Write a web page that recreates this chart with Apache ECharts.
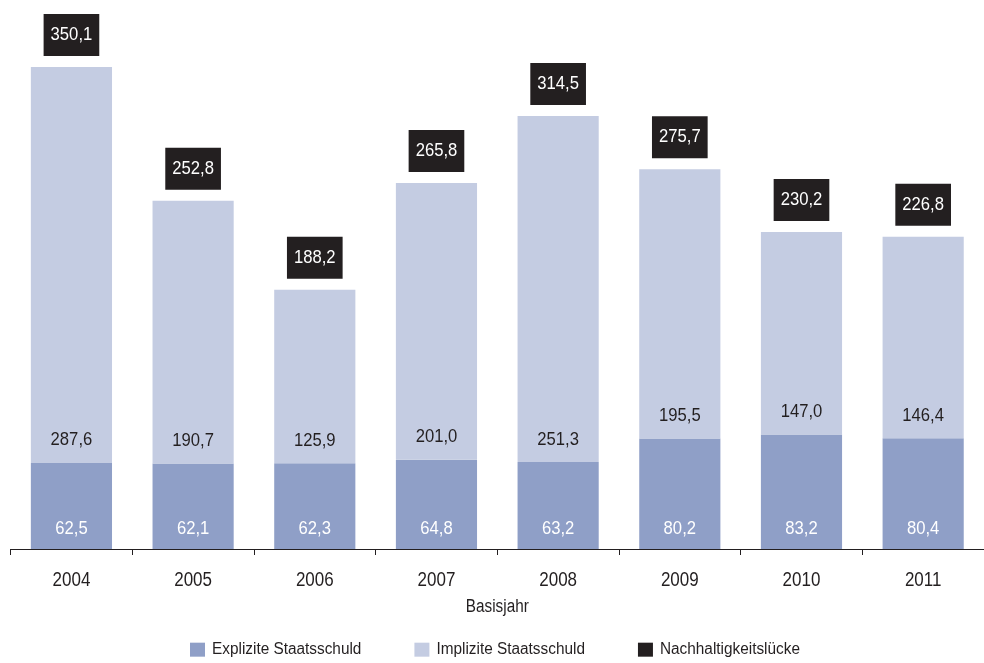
<!DOCTYPE html>
<html>
<head>
<meta charset="utf-8">
<script src="https://cdn.jsdelivr.net/npm/echarts@6/dist/echarts.min.js"></script>
<style>html,body{margin:0;padding:0;background:#fff}#c{width:984px;height:663px}</style>
</head>
<body>
<div id="c"></div>
<script>
var years = ['2004','2005','2006','2007','2008','2009','2010','2011'];
var explizit = [62.5, 62.1, 62.3, 64.8, 63.2, 80.2, 83.2, 80.4];
var implizit = [287.6, 190.7, 125.9, 201.0, 251.3, 195.5, 147.0, 146.4];
var luecke = [350.1, 252.8, 188.2, 265.8, 314.5, 275.7, 230.2, 226.8];

// Emulate the condensed typeface of the original: narrow the glyphs horizontally
// (text is still measured and drawn by ECharts itself).
(function(){
  var P = CanvasRenderingContext2D.prototype;
  function sc(font){
    if (/(^|\s)300(\s)/.test(font)) return 0.96;
    if (/(^|\s)500(\s)/.test(font)) return 0.9;
    return 0.85;
  }
  var mt = P.measureText, ft = P.fillText, st = P.strokeText;
  P.measureText = function(t){
    var m = mt.call(this, t), s = sc(this.font), o = {};
    for (var k in m) { o[k] = m[k]; }
    o.width = m.width * s;
    if (m.actualBoundingBoxLeft != null) o.actualBoundingBoxLeft = m.actualBoundingBoxLeft * s;
    if (m.actualBoundingBoxRight != null) o.actualBoundingBoxRight = m.actualBoundingBoxRight * s;
    return o;
  };
  P.fillText = function(t, x, y){
    var s = sc(this.font);
    this.save(); this.translate(x, y); this.scale(s, 1); ft.call(this, t, 0, 0); this.restore();
  };
  P.strokeText = function(t, x, y){
    var s = sc(this.font);
    this.save(); this.translate(x, y); this.scale(s, 1); st.call(this, t, 0, 0); this.restore();
  };
})();

var FONT = '"Liberation Sans", Arial, sans-serif';
function fmt(v){ return v.toFixed(1).replace('.', ','); }

var chart = echarts.init(document.getElementById('c'), null, {renderer:'canvas'});
chart.setOption({
  animation: false,
  textStyle: {fontFamily: FONT},
  grid: {left: 10.6, width: 983, top: 25.7, bottom: 114},
  legend: {
    top: 642, left: 190, padding: 0,
    itemWidth: 15, itemHeight: 14, itemGap: 53,
    icon: 'rect',
    textStyle: {fontFamily: FONT, fontWeight: 300, fontSize: 16, color: '#231f20', padding: [0, 0, 0, 2]},
    data: ['Explizite Staatsschuld', 'Implizite Staatsschuld', 'Nachhaltigkeitslücke']
  },
  xAxis: {
    type: 'category', data: years,
    name: 'Basisjahr', nameLocation: 'middle', nameGap: 50,
    nameTextStyle: {fontFamily: FONT, fontSize: 18, color: '#231f20'},
    axisLine: {lineStyle: {color: '#231f20', width: 1}},
    axisTick: {show: true, length: 6, lineStyle: {color: '#231f20'}},
    axisLabel: {margin: 23, fontFamily: FONT, fontSize: 20, color: '#231f20'}
  },
  yAxis: {type: 'value', min: 0, max: 380, show: false, splitLine: {show: false}},
  series: [
    {
      name: 'Explizite Staatsschuld', type: 'bar', stack: 'a', barWidth: '66.7%',
      data: explizit,
      itemStyle: {color: '#8f9fc7'},
      label: {show: true, position: 'insideBottom', distance: 12, color: '#fff',
        fontFamily: FONT, fontWeight: 500, fontSize: 18.5, formatter: function(p){ return fmt(p.value); }}
    },
    {
      name: 'Implizite Staatsschuld', type: 'bar', stack: 'a',
      data: implizit,
      itemStyle: {color: '#c4cce2'},
      label: {show: true, position: 'insideBottom', distance: 14, color: '#231f20',
        fontFamily: FONT, fontWeight: 500, fontSize: 18.5, formatter: function(p){ return fmt(p.value); }}
    },
    {
      name: 'Nachhaltigkeitslücke', type: 'bar', stack: 'a',
      data: luecke.map(function(){ return 0; }),
      itemStyle: {color: '#231f20'},
      label: {show: true, position: 'top', distance: 11, color: '#fff',
        backgroundColor: '#231f20', padding: [11, 7, 11, 7], lineHeight: 20,
        fontFamily: FONT, fontWeight: 500, fontSize: 18.5,
        formatter: function(p){ return fmt(luecke[p.dataIndex]); }}
    }
  ]
});
</script>
</body>
</html>
